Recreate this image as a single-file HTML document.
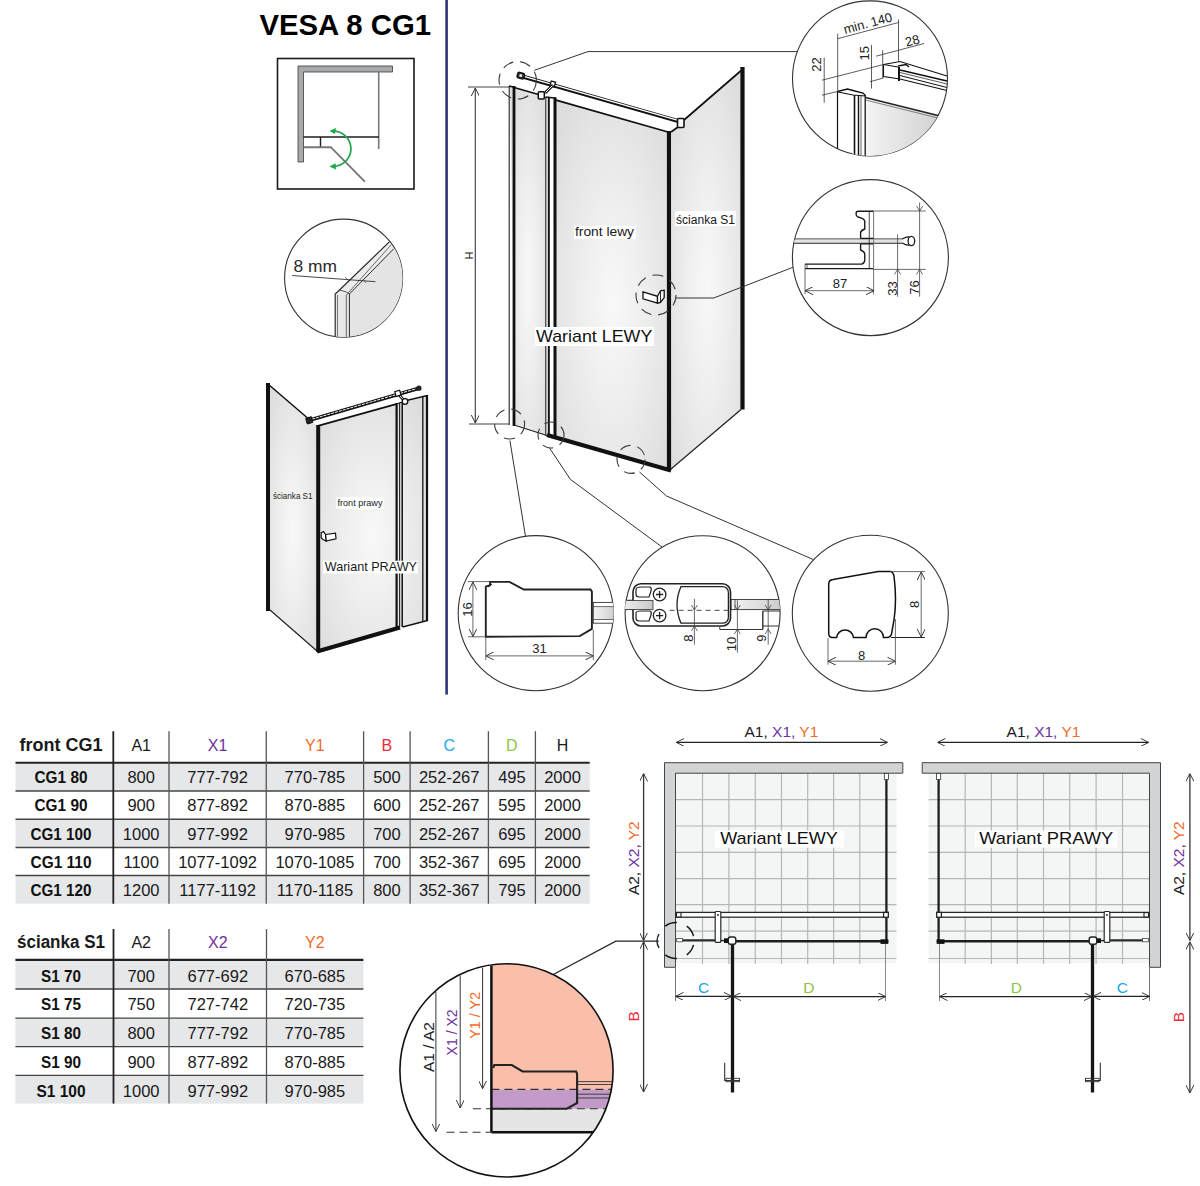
<!DOCTYPE html>
<html><head><meta charset="utf-8">
<style>
html,body{margin:0;padding:0;background:#fff;width:1200px;height:1186px;overflow:hidden}
svg{display:block}
text{font-family:"Liberation Sans",sans-serif}
</style></head>
<body>
<svg width="1200" height="1186" viewBox="0 0 1200 1186">
<defs>
<radialGradient id="glass" cx="0.5" cy="0.55" r="0.65">
<stop offset="0" stop-color="#f8f8f8"/><stop offset="0.4" stop-color="#efefef"/><stop offset="0.75" stop-color="#e5e5e5"/><stop offset="1" stop-color="#dddddd"/>
</radialGradient>
<linearGradient id="glassH" x1="0" y1="0" x2="1" y2="0">
<stop offset="0" stop-color="#f4f4f4"/><stop offset="1" stop-color="#c8c8c8"/>
</linearGradient>
<clipPath id="c8mm"><circle cx="343.6" cy="278.1" r="59"/></clipPath>
<clipPath id="cTR"><circle cx="870" cy="78.4" r="77.5"/></clipPath>
<clipPath id="cHR"><circle cx="870.4" cy="257.6" r="78"/></clipPath>
<clipPath id="cB1"><circle cx="535.8" cy="613.2" r="77.6"/></clipPath>
<clipPath id="cB2"><circle cx="702.6" cy="613.2" r="77.5"/></clipPath>
<clipPath id="cB3"><circle cx="870.3" cy="613.2" r="78"/></clipPath>
<clipPath id="cMag"><circle cx="506.5" cy="1070.4" r="106.6"/></clipPath>
<marker id="arr" viewBox="0 0 10 10" refX="10" refY="5" markerWidth="8" markerHeight="8" orient="auto-start-reverse" markerUnits="userSpaceOnUse">
<path d="M0,0 L10,5 L0,10" fill="none" stroke="#333" stroke-width="1.2"/>
</marker>
</defs>
<rect width="1200" height="1186" fill="#fff"/>

<!-- HEADER -->
<text x="259.5" y="34.8" font-size="29.3" font-weight="bold" fill="#000">VESA 8 CG1</text>
<rect x="445.3" y="0" width="2.6" height="694.6" fill="#2e3572"/>

<!--ICONS-->
<g id="icons">
<rect x="277.5" y="58.5" width="136.5" height="130.5" fill="none" stroke="#1a1a1a" stroke-width="1.6"/>
<path d="M298,66 L392.5,66 L392.5,72 L303.5,72 L303.5,162 L298,162 Z" fill="#a7a9ac" stroke="#3a3a3a" stroke-width="0.8"/>
<line x1="378.7" y1="72" x2="378.7" y2="149" stroke="#777" stroke-width="1.6"/>
<line x1="303.5" y1="137" x2="379" y2="137" stroke="#1e1e1e" stroke-width="1.6"/>
<line x1="320.5" y1="137" x2="320.5" y2="147.5" stroke="#1e1e1e" stroke-width="1.4"/>
<path d="M303.5,147.2 L330.8,147.2 L364.8,181.7" fill="none" stroke="#777" stroke-width="1.9"/>
<path d="M332,131.2 A17.6,17.6 0 1 1 332,166.3" fill="none" stroke="#1fa64a" stroke-width="1.7"/>
<path d="M329.5,131 L336,128 L335,134 Z" fill="#1fa64a"/>
<path d="M329.5,166.5 L335.5,163.2 L336,169.5 Z" fill="#1fa64a"/>

<circle cx="343.6" cy="278.1" r="59" fill="none" stroke="#333" stroke-width="1.1"/>
<g clip-path="url(#c8mm)">
<path d="M349.4,294 L393.8,248.7 L420,248 L420,345 L349.4,345 Z" fill="#e4e4e4"/>
<path d="M335.2,294 L389.3,241.9 L393.8,248.7 L349.4,294 Z" fill="#ececec"/>
<rect x="335.2" y="294" width="14.2" height="50" fill="#e8e8e8"/>
<path d="M335.2,345 L335.2,294 L339.5,290 L389.3,241.9" fill="none" stroke="#2a2a2a" stroke-width="1.2"/>
<path d="M337.5,345 L337.5,295" fill="none" stroke="#444" stroke-width="0.7"/>
<path d="M346.3,345 L346.3,295 L391,245" fill="none" stroke="#444" stroke-width="0.8"/>
<path d="M349.4,345 L349.4,294 L393.8,248.7" fill="none" stroke="#2a2a2a" stroke-width="1"/>
<path d="M339.5,290 L346.3,292 L349.4,294" fill="none" stroke="#333" stroke-width="0.8"/>
</g>
<text x="293.5" y="272" font-size="16.5" fill="#2a2a2a" textLength="43.5" lengthAdjust="spacingAndGlyphs">8 mm</text>
<line x1="292.2" y1="275.5" x2="375.4" y2="281.7" stroke="#333" stroke-width="0.9"/>
<path d="M345,277 L349,281 M363,279 L366,283" stroke="#333" stroke-width="0.6"/>
</g>

<!--PRAWY3D-->
<g id="prawy3d">
<polygon points="268,384 310,421 318,426 318,651 270,610" fill="url(#glass)"/>
<polygon points="318,426 396,404 427.5,395.5 427.5,620.7 399,627.5 318,651" fill="url(#glass)"/>
<line x1="268" y1="383" x2="268" y2="611" stroke="#111" stroke-width="4"/>
<line x1="268" y1="384" x2="311" y2="421" stroke="#111" stroke-width="1.5"/>
<line x1="270" y1="610" x2="317" y2="651" stroke="#222" stroke-width="1.2"/>
<line x1="318.2" y1="425" x2="318.2" y2="652" stroke="#111" stroke-width="4"/>
<line x1="317" y1="426.1" x2="397" y2="403.9" stroke="#111" stroke-width="1.7"/>
<line x1="317" y1="651.5" x2="400" y2="627.5" stroke="#111" stroke-width="4"/>
<line x1="396.6" y1="403.5" x2="396.6" y2="628" stroke="#111" stroke-width="2.2"/>
<line x1="399.6" y1="403" x2="399.6" y2="627" stroke="#222" stroke-width="1.1"/>
<line x1="402.2" y1="402" x2="402.2" y2="627" stroke="#111" stroke-width="1.5"/>
<line x1="422.8" y1="396.5" x2="422.8" y2="621" stroke="#222" stroke-width="1.4"/>
<line x1="427" y1="395" x2="427" y2="621" stroke="#111" stroke-width="2.2"/>
<line x1="402.2" y1="401.5" x2="427.5" y2="395.5" stroke="#111" stroke-width="1.3"/>
<line x1="402.6" y1="627" x2="427.5" y2="620.5" stroke="#111" stroke-width="1.3"/>
<line x1="396" y1="404" x2="402.5" y2="402" stroke="#111" stroke-width="1.3"/>
<line x1="309.3" y1="420.3" x2="418.9" y2="388.2" stroke="#111" stroke-width="3.5"/>
<line x1="312" y1="419.2" x2="416" y2="388.8" stroke="#fff" stroke-width="1" stroke-dasharray="3,1"/>
<rect x="306.3" y="417.3" width="6" height="6" rx="1" fill="#222" stroke="#111" stroke-width="1" transform="rotate(-16 309.3 420.3)"/>
<circle cx="418.9" cy="388.2" r="2.6" fill="#222"/>
<line x1="397.9" y1="393.4" x2="404.9" y2="401.6" stroke="#111" stroke-width="3"/>
<line x1="398.4" y1="393.9" x2="404.4" y2="401.1" stroke="#fff" stroke-width="1"/>
<rect x="395.4" y="390.8" width="5" height="5" fill="#fff" stroke="#111" stroke-width="1.2" transform="rotate(-16 397.9 393.3)"/>
<circle cx="405" cy="401.5" r="2.8" fill="#fff" stroke="#111" stroke-width="1.3"/>
<polygon points="325.5,534.5 335.5,533.2 336,538.8 326,541" fill="#fff" stroke="#111" stroke-width="1.2"/>
<polygon points="321.2,532.8 323.5,531.6 325.5,534.5 326,541 323,539.5 321.2,537.8" fill="#fff" stroke="#111" stroke-width="1.2"/>
<text x="273" y="498.7" font-size="8.8" fill="#222" textLength="39.5" lengthAdjust="spacingAndGlyphs">ścianka S1</text>
<rect x="336" y="497" width="48" height="12" fill="#fff" opacity="0.9"/>
<text x="337.5" y="505.8" font-size="9" fill="#222" textLength="45" lengthAdjust="spacingAndGlyphs">front prawy</text>
<rect x="323" y="560.7" width="94.7" height="12.8" fill="#fff"/>
<text x="324.7" y="571.2" font-size="12.6" fill="#1a1a1a" textLength="92.3" lengthAdjust="spacingAndGlyphs">Wariant PRAWY</text>
</g>

<!--LEWY3D-->
<g id="lewy3d">
<polygon points="510,86 546,96 546,436 515,425" fill="url(#glass)"/>
<polygon points="556,100 668,132 669,470 556,437" fill="url(#glass)"/>
<polygon points="671.7,131.8 743.3,68.5 743,409 671,469" fill="url(#glass)"/>
<!-- H dimension -->
<line x1="468" y1="87" x2="510" y2="87" stroke="#444" stroke-width="1"/>
<line x1="469" y1="424" x2="509" y2="424" stroke="#444" stroke-width="1"/>
<line x1="475.3" y1="88" x2="475.3" y2="423" stroke="#3a3a3a" stroke-width="1.1" marker-start="url(#arr)" marker-end="url(#arr)"/>
<text transform="translate(473,255.5) rotate(-90)" font-size="11" fill="#222" text-anchor="middle">H</text>
<!-- fixed panel -->
<line x1="509.2" y1="86" x2="509.2" y2="425" stroke="#222" stroke-width="1.1"/>
<line x1="514" y1="86" x2="514" y2="426" stroke="#111" stroke-width="2.8"/>
<line x1="509" y1="86" x2="515" y2="87.5" stroke="#111" stroke-width="1.5"/>
<line x1="515" y1="87.7" x2="538.5" y2="94.5" stroke="#111" stroke-width="1.5"/>
<line x1="514" y1="425" x2="547" y2="435.5" stroke="#222" stroke-width="1.1"/>
<!-- inner strip -->
<line x1="545.8" y1="97" x2="545.8" y2="436" stroke="#222" stroke-width="1.1"/>
<line x1="548.8" y1="97" x2="548.8" y2="436" stroke="#111" stroke-width="2"/>
<line x1="555" y1="97.5" x2="555" y2="437" stroke="#111" stroke-width="3"/>
<line x1="545.7" y1="97" x2="556.3" y2="98.3" stroke="#111" stroke-width="1.6"/>
<!-- door -->
<line x1="556" y1="100.2" x2="668" y2="132" stroke="#111" stroke-width="1.8"/>
<line x1="669" y1="131" x2="669" y2="471" stroke="#111" stroke-width="4.2"/>
<line x1="547" y1="435" x2="671" y2="470.5" stroke="#111" stroke-width="4.4"/>
<!-- S1 -->
<line x1="671" y1="132" x2="678" y2="127" stroke="#111" stroke-width="1.7"/>
<line x1="684" y1="120" x2="743.5" y2="68.5" stroke="#111" stroke-width="1.7"/>
<line x1="742.5" y1="67" x2="742.5" y2="409.5" stroke="#111" stroke-width="4.2"/>
<line x1="671" y1="469" x2="741" y2="409.5" stroke="#222" stroke-width="1.2"/>
<!-- rail -->
<line x1="519" y1="75.5" x2="681" y2="121.8" stroke="#111" stroke-width="4"/>
<line x1="524" y1="76.3" x2="678" y2="120.3" stroke="#fff" stroke-width="1.3"/>
<rect x="517.3" y="72.8" width="7" height="5.6" rx="1.5" fill="#333" stroke="#111" stroke-width="1.4" transform="rotate(16 520.7 75.6)"/>
<rect x="519.5" y="74.3" width="2.5" height="2.5" fill="#fff" transform="rotate(16 520.7 75.6)"/>
<rect x="550.5" y="81.5" width="4.5" height="5" fill="#fff" stroke="#111" stroke-width="1.3" transform="rotate(16 552.7 84)"/>
<line x1="545" y1="93" x2="553" y2="85" stroke="#111" stroke-width="3"/>
<line x1="545.5" y1="92.5" x2="552.5" y2="85.5" stroke="#fff" stroke-width="1"/>
<rect x="538.3" y="91.7" width="6" height="7.3" rx="1" fill="#fff" stroke="#111" stroke-width="1.5"/>
<rect x="677.5" y="118.5" width="6.5" height="9" rx="1" fill="#fff" stroke="#111" stroke-width="1.6"/>
<!-- handle -->
<polygon points="643,291.8 657.5,296.3 657.5,303.2 643,298.8" fill="#fff" stroke="#111" stroke-width="1.3"/>
<polygon points="657.5,296.3 660.5,290.8 664.2,290.2 664.2,297.6 660.5,302.5 657.5,303.2" fill="#fff" stroke="#111" stroke-width="1.3"/>
<line x1="660.5" y1="291" x2="660.5" y2="302.5" stroke="#111" stroke-width="0.9"/>
<!-- texts -->
<rect x="574" y="226" width="62" height="13" fill="#fff"/>
<text x="575" y="236" font-size="12" fill="#1a1a1a" textLength="59" lengthAdjust="spacingAndGlyphs">front lewy</text>
<rect x="675" y="211" width="61" height="15" fill="#fff"/>
<text x="676" y="223.7" font-size="12.3" fill="#1a1a1a" textLength="59" lengthAdjust="spacingAndGlyphs">ścianka S1</text>
<rect x="535" y="327" width="119" height="19" fill="#fff"/>
<text x="536" y="342" font-size="17" fill="#111" textLength="116.3" lengthAdjust="spacingAndGlyphs">Wariant LEWY</text>
<!-- dashed circles -->
<g fill="none" stroke="#3a3a3a" stroke-width="1.1" stroke-dasharray="11,7">
<circle cx="517.7" cy="80.3" r="18.7"/>
<circle cx="656" cy="295" r="20"/>
<circle cx="509.6" cy="424" r="15"/>
<circle cx="551" cy="435" r="13"/>
<circle cx="631" cy="459.4" r="14"/>
</g>
<!-- leaders -->
<g fill="none" stroke="#333" stroke-width="1">
<polyline points="534.3,70.3 588,51.6 797,51.6"/>
<polyline points="675.5,298 713.7,298 793.2,267.2"/>
<polyline points="509.9,440.5 525.5,536.5"/>
<polyline points="549.5,448 570.5,479.5 662,547"/>
<polyline points="639.5,472 666.5,496 813,559.4"/>
</g>
</g>

<!--CIRCLES-->
<g id="circTR">
<circle cx="870" cy="78.4" r="77.5" fill="#fff" stroke="#333" stroke-width="1.1"/>
<g clip-path="url(#cTR)">
<polygon points="865.5,97.5 940,116 960,160 865.5,160" fill="url(#glassH)"/>
<line x1="865.5" y1="97.5" x2="940" y2="116" stroke="#222" stroke-width="1.3"/>
<line x1="865.5" y1="100" x2="940" y2="118.5" stroke="#555" stroke-width="0.7"/>
<line x1="837.5" y1="91.5" x2="837.5" y2="160" stroke="#111" stroke-width="1.2"/>
<rect x="852.5" y="94" width="13" height="66" fill="#fff"/>
<line x1="854.5" y1="95" x2="854.5" y2="160" stroke="#111" stroke-width="1.6"/>
<line x1="858.5" y1="95" x2="858.5" y2="160" stroke="#111" stroke-width="1.4"/>
<line x1="861" y1="95" x2="861" y2="160" stroke="#333" stroke-width="0.8"/>
<line x1="865.2" y1="95" x2="865.2" y2="160" stroke="#111" stroke-width="1.3"/>
<path d="M837.5,91.5 L847.5,89 L853,90.5 L863,93 L865.5,95.5" fill="none" stroke="#111" stroke-width="1.3"/>
<path d="M838,92 L853,95 L865.5,96" fill="none" stroke="#111" stroke-width="1.1"/>
<!-- rail -->
<path d="M883.5,64.5 L900,61.5 L947,76" fill="none" stroke="#111" stroke-width="1.1"/>
<path d="M883.5,64.5 L883.5,76.5 L900,79" fill="none" stroke="#111" stroke-width="1.1"/>
<line x1="900" y1="79" x2="947" y2="90.5" stroke="#111" stroke-width="1.1"/>
<line x1="900" y1="70" x2="947" y2="81" stroke="#111" stroke-width="1.3"/>
<line x1="900" y1="72.5" x2="947" y2="84" stroke="#333" stroke-width="0.8"/>
<line x1="900" y1="75.5" x2="947" y2="87.5" stroke="#111" stroke-width="1"/>
<path d="M899,67 L899,81" stroke="#111" stroke-width="2"/>
<path d="M898,66 L906,64.5 L909,67" fill="none" stroke="#111" stroke-width="1.5"/>
<line x1="883.5" y1="64.5" x2="898" y2="67" stroke="#111" stroke-width="1"/>
<!-- dims -->
<g stroke="#333" stroke-width="0.8" fill="none">
<line x1="837.7" y1="33.7" x2="837.7" y2="91.5"/>
<line x1="898.5" y1="19.5" x2="898.5" y2="61.5"/>
<line x1="837.7" y1="38.7" x2="898.5" y2="22.5"/>
<line x1="876" y1="56.2" x2="924" y2="43.5"/>
<line x1="882.7" y1="50.2" x2="882.7" y2="78"/>
<line x1="871.5" y1="45" x2="871.5" y2="88.5"/>
<line x1="824.2" y1="57.7" x2="824.2" y2="102.7"/>
<line x1="822" y1="80.2" x2="883.5" y2="64.5"/>
<line x1="822" y1="95.2" x2="837.4" y2="91.5"/>
<line x1="870" y1="81.7" x2="883.5" y2="78"/>
</g>
</g>
<text transform="translate(869,27.5) rotate(-15)" font-size="13" fill="#222" text-anchor="middle">min. 140</text>
<text transform="translate(913.5,45) rotate(-15)" font-size="13" fill="#222" text-anchor="middle">28</text>
<text transform="translate(868.5,53.2) rotate(-90)" font-size="13" fill="#222" text-anchor="middle">15</text>
<text transform="translate(821,64.5) rotate(-90)" font-size="13" fill="#222" text-anchor="middle">22</text>
</g>

<g id="circHR">
<circle cx="870.4" cy="257.6" r="78" fill="#fff" stroke="#333" stroke-width="1.1"/>
<g clip-path="url(#cHR)">
<path d="M790,239 L902.3,239 M790,243.1 L902.3,243.1" fill="none" stroke="#222" stroke-width="1.2"/>
<rect x="790" y="239.6" width="112" height="2.9" fill="#e2e2e2"/>
<path d="M805,264.1 L861.5,264.1 Q864.75,263.3 864.75,260 L864.75,254 Q864.5,251.5 860.6,250 L860.6,243.9 M860.6,238.3 L860.6,232.5 Q861,230.5 864.75,229 L864.75,221 Q864.2,218.5 858,217 Q856.1,216.5 856.1,214 L856.1,213 Q856.3,211.25 858.5,211.25 L873.4,211.25 M805,268.6 L873.4,268.6" fill="none" stroke="#1a1a1a" stroke-width="1.4"/>
<line x1="869.25" y1="211.5" x2="869.25" y2="268.5" stroke="#333" stroke-width="0.9"/>
<line x1="873.6" y1="211" x2="873.6" y2="294.5" stroke="#777" stroke-width="1"/>
<line x1="860.6" y1="238.4" x2="873.4" y2="238.4" stroke="#1a1a1a" stroke-width="1.2"/>
<line x1="860.6" y1="243.8" x2="873.4" y2="243.8" stroke="#1a1a1a" stroke-width="1.2"/>
<line x1="807" y1="264.5" x2="807" y2="268.5" stroke="#333" stroke-width="0.8"/>
<path d="M902.3,239 Q905.5,236.8 909.5,236.6 M902.3,243.1 Q905.5,245.3 909.5,245.4" fill="none" stroke="#1a1a1a" stroke-width="1.2"/>
<ellipse cx="911.4" cy="241" rx="3.3" ry="4.7" fill="#fff" stroke="#1a1a1a" stroke-width="1.3"/>
</g>
<g stroke="#444" stroke-width="0.8" fill="none">
<line x1="873.3" y1="211" x2="925.7" y2="211"/>
<line x1="873.3" y1="269.4" x2="925.7" y2="269.4"/>
<line x1="919.6" y1="202.6" x2="919.6" y2="296.7"/>
<line x1="897.6" y1="234.5" x2="897.6" y2="296.7"/>
<line x1="805" y1="264" x2="805" y2="294"/>

<line x1="805" y1="290.7" x2="874.1" y2="290.7" marker-start="url(#arr)" marker-end="url(#arr)"/>
<path d="M916.5,206 L919.6,211 L922.7,206 M916.5,274.4 L919.6,269.4 L922.7,274.4 M894.5,274.4 L897.6,269.4 L900.7,274.4"/>
</g>
<text x="840" y="287.5" font-size="13" fill="#222" text-anchor="middle">87</text>
<text transform="translate(896.5,288.4) rotate(-90)" font-size="13" fill="#222" text-anchor="middle">33</text>
<text transform="translate(918.5,287.6) rotate(-90)" font-size="13" fill="#222" text-anchor="middle">76</text>
</g>

<g id="circB1">
<circle cx="535.8" cy="613.2" r="77.6" fill="#fff" stroke="#333" stroke-width="1.1"/>
<g clip-path="url(#cB1)">
<rect x="593.3" y="602.4" width="25" height="20.8" fill="#fff" stroke="#333" stroke-width="0.9"/>
<rect x="593.3" y="606.7" width="25" height="12.9" fill="url(#glassH)" stroke="#333" stroke-width="0.7"/>
</g>
<path d="M490.1,585.2 L490.1,581.9 L509.5,581.9 L523.8,589.5 L590.5,589.5 L591.9,591.6 L591.9,628.9 L579.7,636.1 L485.8,636.8 L485.8,586.6 Z" fill="#fff" stroke="#222" stroke-width="1.9"/>
<path d="M488,587 L492,584" stroke="#222" stroke-width="1"/>
<g stroke="#444" stroke-width="0.8" fill="none">
<line x1="467.9" y1="581.6" x2="490" y2="581.6"/>
<line x1="467.9" y1="636.8" x2="486" y2="636.8"/>
<line x1="472.9" y1="582" x2="472.9" y2="636.5" marker-start="url(#arr)" marker-end="url(#arr)"/>
<line x1="485.8" y1="637" x2="485.8" y2="660"/>
<line x1="593.3" y1="630" x2="593.3" y2="660"/>
<line x1="485.8" y1="655.9" x2="593.3" y2="655.9" marker-start="url(#arr)" marker-end="url(#arr)"/>
</g>
<text transform="translate(471.5,609.6) rotate(-90)" font-size="13" fill="#222" text-anchor="middle">16</text>
<text x="539.6" y="653.3" font-size="13" fill="#222" text-anchor="middle">31</text>
</g>

<g id="circB2">
<circle cx="702.6" cy="613.2" r="77.5" fill="#fff" stroke="#333" stroke-width="1.1"/>
<g clip-path="url(#cB2)">
<rect x="620" y="600.2" width="33" height="9.4" fill="url(#glassH)" stroke="#333" stroke-width="0.9"/>
<rect x="731" y="599.5" width="55" height="10.1" fill="url(#glassH)" stroke="#333" stroke-width="0.9"/>
<line x1="735" y1="599.5" x2="735" y2="609.6" stroke="#333" stroke-width="0.8"/>
<path d="M719.8,627 L719.8,629.5 L762.8,629.5 L762.8,611 L790,611 M762.8,626 L790,626" fill="none" stroke="#333" stroke-width="1"/>
<line x1="762.8" y1="611" x2="762.8" y2="629" stroke="#333" stroke-width="1"/>
</g>
<rect x="633" y="583.8" width="97.5" height="42.2" rx="8" fill="#fff" stroke="#222" stroke-width="1.6"/>
<rect x="620" y="600.5" width="33" height="9" fill="url(#glassH)" stroke="#333" stroke-width="0.8" clip-path="url(#cB2)"/>
<path d="M681,586.6 L722,586.6 Q728.4,586.6 728.4,593 L728.4,617 Q728.4,623.2 722,623.2 L681,623.2 Q673,605 681,586.6 Z" fill="#fff" stroke="#222" stroke-width="1.3"/>
<path d="M636,590 Q636,587 641,587 L650,587 Q652,588 651,591 L649,597 L639,597 Q636,597 636,594 Z" fill="#fff" stroke="#222" stroke-width="1.2"/>
<path d="M636,613 Q636,611 641,611 L650,611 Q652,612 651,615 L649,621 L639,621 Q636,621 636,618 Z" fill="#fff" stroke="#222" stroke-width="1.2"/>
<circle cx="659.6" cy="594.5" r="6.3" fill="#fff" stroke="#222" stroke-width="1.3"/>
<circle cx="659.6" cy="615.6" r="6.3" fill="#fff" stroke="#222" stroke-width="1.3"/>
<path d="M656,594.5 L663.2,594.5 M659.6,591 L659.6,598 M656,615.6 L663.2,615.6 M659.6,612 L659.6,619.2" stroke="#222" stroke-width="1.3"/>
<line x1="669.6" y1="610.3" x2="729.8" y2="610.3" stroke="#333" stroke-width="0.9" stroke-dasharray="5,4"/>
<g stroke="#444" stroke-width="0.8" fill="none">
<line x1="694.4" y1="598.8" x2="694.4" y2="644.7"/>
<line x1="737.4" y1="600.2" x2="737.4" y2="652.6"/>
<line x1="768.2" y1="598.8" x2="768.2" y2="644.7"/>
<path d="M691.5,605 L694.4,610 L697.3,605 M691.5,631 L694.4,626 L697.3,631 M734.5,605 L737.4,610 L740.3,605 M734.5,634 L737.4,629 L740.3,634 M765.3,605 L768.2,610 L771.1,605 M765.3,634 L768.2,629 L771.1,634"/>
</g>
<text transform="translate(692.5,638.2) rotate(-90)" font-size="13" fill="#222" text-anchor="middle">8</text>
<text transform="translate(735.5,644) rotate(-90)" font-size="13" fill="#222" text-anchor="middle">10</text>
<text transform="translate(765.5,638.2) rotate(-90)" font-size="13" fill="#222" text-anchor="middle">9</text>
</g>

<g id="circB3">
<circle cx="870.3" cy="613.2" r="78" fill="#fff" stroke="#333" stroke-width="1.1"/>
<path d="M828.7,584 Q828.7,580 833,579.5 L878.2,571.6 L890.4,571.6 Q893,572 894,576 Q897,600 894,620 L891.5,634 Q890.5,637.5 887,637.5 L883.5,637.5 A8.5,8.5 0 0 0 866,637.5 L853.5,637.5 A8.5,8.5 0 0 0 836.6,637.5 L832,637.5 Q828.7,637.5 828.7,633 Z" fill="#fff" stroke="#111" stroke-width="1.5"/>
<g stroke="#444" stroke-width="0.8" fill="none">
<line x1="890" y1="571.6" x2="924.8" y2="571.6"/>
<line x1="891" y1="637.5" x2="924.8" y2="637.5" stroke="#222" stroke-width="1"/>
<line x1="921.2" y1="572" x2="921.2" y2="637" marker-start="url(#arr)" marker-end="url(#arr)"/>
<line x1="828" y1="638" x2="828" y2="664.7"/>
<line x1="895.4" y1="619" x2="895.4" y2="664.7"/>
<line x1="828" y1="661.2" x2="895.4" y2="661.2" marker-start="url(#arr)" marker-end="url(#arr)"/>
</g>
<text transform="translate(919,604.3) rotate(-90)" font-size="13" fill="#222" text-anchor="middle">8</text>
<text x="861.7" y="660" font-size="13" fill="#222" text-anchor="middle">8</text>
</g>

<!--TABLES-->
<g id="tables">
<rect x="15.5" y="763.7" width="574.2" height="27.299999999999955" fill="#e6e7e9"/>
<rect x="15.5" y="819.25" width="574.2" height="28.25" fill="#e6e7e9"/>
<rect x="15.5" y="875.5" width="574.2" height="28.25" fill="#e6e7e9"/>
<line x1="15.5" y1="791" x2="589.7" y2="791" stroke="#444" stroke-width="1.3"/>
<line x1="15.5" y1="819.25" x2="589.7" y2="819.25" stroke="#444" stroke-width="1.3"/>
<line x1="15.5" y1="847.5" x2="589.7" y2="847.5" stroke="#444" stroke-width="1.3"/>
<line x1="15.5" y1="875.5" x2="589.7" y2="875.5" stroke="#444" stroke-width="1.3"/>
<line x1="15.5" y1="762.7" x2="589.7" y2="762.7" stroke="#222" stroke-width="2.1"/>
<line x1="113.3" y1="731.25" x2="113.3" y2="903.75" stroke="#222" stroke-width="1.8"/>
<line x1="169" y1="731.25" x2="169" y2="903.75" stroke="#555" stroke-width="1.3"/>
<line x1="266.25" y1="731.25" x2="266.25" y2="903.75" stroke="#555" stroke-width="1.3"/>
<line x1="363.6" y1="731.25" x2="363.6" y2="903.75" stroke="#555" stroke-width="1.3"/>
<line x1="410.1" y1="731.25" x2="410.1" y2="903.75" stroke="#555" stroke-width="1.3"/>
<line x1="488.4" y1="731.25" x2="488.4" y2="903.75" stroke="#555" stroke-width="1.3"/>
<line x1="535.4" y1="731.25" x2="535.4" y2="903.75" stroke="#555" stroke-width="1.3"/>
<text x="61.0" y="750.8" font-size="18" font-weight="bold" fill="#1a1a1a" text-anchor="middle">front CG1</text>
<text x="141.2" y="750.8" font-size="16" fill="#1a1a1a" text-anchor="middle">A1</text>
<text x="217.6" y="750.8" font-size="16" fill="#7030a0" text-anchor="middle">X1</text>
<text x="314.9" y="750.8" font-size="16" fill="#f26b2a" text-anchor="middle">Y1</text>
<text x="386.9" y="750.8" font-size="16" fill="#ee2a3a" text-anchor="middle">B</text>
<text x="449.2" y="750.8" font-size="16" fill="#1ea7e8" text-anchor="middle">C</text>
<text x="511.9" y="750.8" font-size="16" fill="#8dc63f" text-anchor="middle">D</text>
<text x="562.5" y="750.8" font-size="16" fill="#1a1a1a" text-anchor="middle">H</text>
<text x="34.5" y="783.3" font-size="16.8" font-weight="bold" fill="#111" textLength="53" lengthAdjust="spacingAndGlyphs">CG1 80</text>
<text x="141.2" y="783.3" font-size="16.5" fill="#1a1a1a" text-anchor="middle">800</text>
<text x="217.6" y="783.3" font-size="16.5" fill="#1a1a1a" text-anchor="middle">777-792</text>
<text x="314.9" y="783.3" font-size="16.5" fill="#1a1a1a" text-anchor="middle">770-785</text>
<text x="386.9" y="783.3" font-size="16.5" fill="#1a1a1a" text-anchor="middle">500</text>
<text x="449.2" y="783.3" font-size="16.5" fill="#1a1a1a" text-anchor="middle">252-267</text>
<text x="511.9" y="783.3" font-size="16.5" fill="#1a1a1a" text-anchor="middle">495</text>
<text x="562.5" y="783.3" font-size="16.5" fill="#1a1a1a" text-anchor="middle">2000</text>
<text x="34.5" y="811.4" font-size="16.8" font-weight="bold" fill="#111" textLength="53" lengthAdjust="spacingAndGlyphs">CG1 90</text>
<text x="141.2" y="811.4" font-size="16.5" fill="#1a1a1a" text-anchor="middle">900</text>
<text x="217.6" y="811.4" font-size="16.5" fill="#1a1a1a" text-anchor="middle">877-892</text>
<text x="314.9" y="811.4" font-size="16.5" fill="#1a1a1a" text-anchor="middle">870-885</text>
<text x="386.9" y="811.4" font-size="16.5" fill="#1a1a1a" text-anchor="middle">600</text>
<text x="449.2" y="811.4" font-size="16.5" fill="#1a1a1a" text-anchor="middle">252-267</text>
<text x="511.9" y="811.4" font-size="16.5" fill="#1a1a1a" text-anchor="middle">595</text>
<text x="562.5" y="811.4" font-size="16.5" fill="#1a1a1a" text-anchor="middle">2000</text>
<text x="30.5" y="839.5" font-size="16.8" font-weight="bold" fill="#111" textLength="61" lengthAdjust="spacingAndGlyphs">CG1 100</text>
<text x="141.2" y="839.5" font-size="16.5" fill="#1a1a1a" text-anchor="middle">1000</text>
<text x="217.6" y="839.5" font-size="16.5" fill="#1a1a1a" text-anchor="middle">977-992</text>
<text x="314.9" y="839.5" font-size="16.5" fill="#1a1a1a" text-anchor="middle">970-985</text>
<text x="386.9" y="839.5" font-size="16.5" fill="#1a1a1a" text-anchor="middle">700</text>
<text x="449.2" y="839.5" font-size="16.5" fill="#1a1a1a" text-anchor="middle">252-267</text>
<text x="511.9" y="839.5" font-size="16.5" fill="#1a1a1a" text-anchor="middle">695</text>
<text x="562.5" y="839.5" font-size="16.5" fill="#1a1a1a" text-anchor="middle">2000</text>
<text x="30.5" y="867.6" font-size="16.8" font-weight="bold" fill="#111" textLength="61" lengthAdjust="spacingAndGlyphs">CG1 110</text>
<text x="141.2" y="867.6" font-size="16.5" fill="#1a1a1a" text-anchor="middle">1100</text>
<text x="217.6" y="867.6" font-size="16.5" fill="#1a1a1a" text-anchor="middle">1077-1092</text>
<text x="314.9" y="867.6" font-size="16.5" fill="#1a1a1a" text-anchor="middle">1070-1085</text>
<text x="386.9" y="867.6" font-size="16.5" fill="#1a1a1a" text-anchor="middle">700</text>
<text x="449.2" y="867.6" font-size="16.5" fill="#1a1a1a" text-anchor="middle">352-367</text>
<text x="511.9" y="867.6" font-size="16.5" fill="#1a1a1a" text-anchor="middle">695</text>
<text x="562.5" y="867.6" font-size="16.5" fill="#1a1a1a" text-anchor="middle">2000</text>
<text x="30.5" y="895.7" font-size="16.8" font-weight="bold" fill="#111" textLength="61" lengthAdjust="spacingAndGlyphs">CG1 120</text>
<text x="141.2" y="895.7" font-size="16.5" fill="#1a1a1a" text-anchor="middle">1200</text>
<text x="217.6" y="895.7" font-size="16.5" fill="#1a1a1a" text-anchor="middle">1177-1192</text>
<text x="314.9" y="895.7" font-size="16.5" fill="#1a1a1a" text-anchor="middle">1170-1185</text>
<text x="386.9" y="895.7" font-size="16.5" fill="#1a1a1a" text-anchor="middle">800</text>
<text x="449.2" y="895.7" font-size="16.5" fill="#1a1a1a" text-anchor="middle">352-367</text>
<text x="511.9" y="895.7" font-size="16.5" fill="#1a1a1a" text-anchor="middle">795</text>
<text x="562.5" y="895.7" font-size="16.5" fill="#1a1a1a" text-anchor="middle">2000</text>
<rect x="15.4" y="960.9" width="348.0" height="28.100000000000023" fill="#e6e7e9"/>
<rect x="15.4" y="1018.1" width="348.0" height="28.499999999999886" fill="#e6e7e9"/>
<rect x="15.4" y="1075.4" width="348.0" height="28.199999999999818" fill="#e6e7e9"/>
<line x1="15.4" y1="989" x2="363.4" y2="989" stroke="#444" stroke-width="1.3"/>
<line x1="15.4" y1="1018.1" x2="363.4" y2="1018.1" stroke="#444" stroke-width="1.3"/>
<line x1="15.4" y1="1046.6" x2="363.4" y2="1046.6" stroke="#444" stroke-width="1.3"/>
<line x1="15.4" y1="1075.4" x2="363.4" y2="1075.4" stroke="#444" stroke-width="1.3"/>
<line x1="15.4" y1="959.9" x2="363.4" y2="959.9" stroke="#222" stroke-width="2.1"/>
<line x1="113.5" y1="929" x2="113.5" y2="1103.6" stroke="#222" stroke-width="1.8"/>
<line x1="169" y1="929" x2="169" y2="1103.6" stroke="#555" stroke-width="1.3"/>
<line x1="266.5" y1="929" x2="266.5" y2="1103.6" stroke="#555" stroke-width="1.3"/>
<text x="17.0" y="947.6" font-size="18" font-weight="bold" fill="#1a1a1a" textLength="88" lengthAdjust="spacingAndGlyphs">ścianka S1</text>
<text x="141.2" y="947.6" font-size="16" fill="#1a1a1a" text-anchor="middle">A2</text>
<text x="217.8" y="947.6" font-size="16" fill="#7030a0" text-anchor="middle">X2</text>
<text x="314.9" y="947.6" font-size="16" fill="#f26b2a" text-anchor="middle">Y2</text>
<text x="41.0" y="981.5" font-size="16.8" font-weight="bold" fill="#111" textLength="40" lengthAdjust="spacingAndGlyphs">S1 70</text>
<text x="141.2" y="981.5" font-size="16.5" fill="#1a1a1a" text-anchor="middle">700</text>
<text x="217.8" y="981.5" font-size="16.5" fill="#1a1a1a" text-anchor="middle">677-692</text>
<text x="314.9" y="981.5" font-size="16.5" fill="#1a1a1a" text-anchor="middle">670-685</text>
<text x="41.0" y="1010.3" font-size="16.8" font-weight="bold" fill="#111" textLength="40" lengthAdjust="spacingAndGlyphs">S1 75</text>
<text x="141.2" y="1010.3" font-size="16.5" fill="#1a1a1a" text-anchor="middle">750</text>
<text x="217.8" y="1010.3" font-size="16.5" fill="#1a1a1a" text-anchor="middle">727-742</text>
<text x="314.9" y="1010.3" font-size="16.5" fill="#1a1a1a" text-anchor="middle">720-735</text>
<text x="41.0" y="1039" font-size="16.8" font-weight="bold" fill="#111" textLength="40" lengthAdjust="spacingAndGlyphs">S1 80</text>
<text x="141.2" y="1039" font-size="16.5" fill="#1a1a1a" text-anchor="middle">800</text>
<text x="217.8" y="1039" font-size="16.5" fill="#1a1a1a" text-anchor="middle">777-792</text>
<text x="314.9" y="1039" font-size="16.5" fill="#1a1a1a" text-anchor="middle">770-785</text>
<text x="41.0" y="1067.8" font-size="16.8" font-weight="bold" fill="#111" textLength="40" lengthAdjust="spacingAndGlyphs">S1 90</text>
<text x="141.2" y="1067.8" font-size="16.5" fill="#1a1a1a" text-anchor="middle">900</text>
<text x="217.8" y="1067.8" font-size="16.5" fill="#1a1a1a" text-anchor="middle">877-892</text>
<text x="314.9" y="1067.8" font-size="16.5" fill="#1a1a1a" text-anchor="middle">870-885</text>
<text x="36.5" y="1096.5" font-size="16.8" font-weight="bold" fill="#111" textLength="49" lengthAdjust="spacingAndGlyphs">S1 100</text>
<text x="141.2" y="1096.5" font-size="16.5" fill="#1a1a1a" text-anchor="middle">1000</text>
<text x="217.8" y="1096.5" font-size="16.5" fill="#1a1a1a" text-anchor="middle">977-992</text>
<text x="314.9" y="1096.5" font-size="16.5" fill="#1a1a1a" text-anchor="middle">970-985</text>
</g>
<!--PLANS-->
<g id="planL">
<rect x="675.5" y="773.2" width="221" height="190" fill="#f4f6f5"/>
<line x1="702.5" y1="773.2" x2="702.5" y2="964" stroke="#b4b6b8" stroke-width="1.2"/>
<line x1="728.9" y1="773.2" x2="728.9" y2="964" stroke="#b4b6b8" stroke-width="1.2"/>
<line x1="755.3" y1="773.2" x2="755.3" y2="964" stroke="#b4b6b8" stroke-width="1.2"/>
<line x1="781.5" y1="773.2" x2="781.5" y2="964" stroke="#b4b6b8" stroke-width="1.2"/>
<line x1="807.7" y1="773.2" x2="807.7" y2="964" stroke="#b4b6b8" stroke-width="1.2"/>
<line x1="833.6" y1="773.2" x2="833.6" y2="964" stroke="#b4b6b8" stroke-width="1.2"/>
<line x1="859.8" y1="773.2" x2="859.8" y2="964" stroke="#b4b6b8" stroke-width="1.2"/>
<line x1="675.5" y1="799.6" x2="896.5" y2="799.6" stroke="#b4b6b8" stroke-width="1.2"/>
<line x1="675.5" y1="826.0" x2="896.5" y2="826.0" stroke="#b4b6b8" stroke-width="1.2"/>
<line x1="675.5" y1="852.4" x2="896.5" y2="852.4" stroke="#b4b6b8" stroke-width="1.2"/>
<line x1="675.5" y1="878.6" x2="896.5" y2="878.6" stroke="#b4b6b8" stroke-width="1.2"/>
<line x1="675.5" y1="904.6" x2="896.5" y2="904.6" stroke="#b4b6b8" stroke-width="1.2"/>
<line x1="675.5" y1="931.2" x2="896.5" y2="931.2" stroke="#b4b6b8" stroke-width="1.2"/>
<line x1="675.5" y1="958.5" x2="896.5" y2="958.5" stroke="#b4b6b8" stroke-width="1.2"/>
<path d="M664.5,762.7 L902.8,762.7 L902.8,773.2 L675.5,773.2 L675.5,967.3 L664.5,967.3 Z" fill="#d1d3d4" stroke="#444" stroke-width="1"/>
<line x1="886.4" y1="779" x2="886.4" y2="943" stroke="#1e1e1e" stroke-width="2.3"/>
<rect x="884.3" y="773.6" width="4.2" height="6" fill="#fff" stroke="#333" stroke-width="0.8"/>
<rect x="676" y="912.4" width="212.3" height="4.8" fill="#fff" stroke="#2a2a2a" stroke-width="1.3"/>
<rect x="676.5" y="912.6" width="4.5" height="4.4" fill="#fff" stroke="#222" stroke-width="1.1"/>
<rect x="883.6" y="912.4" width="4.7" height="4.8" fill="#fff" stroke="#222" stroke-width="1.2"/>
<rect x="715.2" y="911.5" width="5.6" height="30.9" rx="1" fill="#fff" stroke="#2a2a2a" stroke-width="1.2"/>
<circle cx="718" cy="915" r="1" fill="#333"/>
<line x1="682" y1="940.3" x2="715.2" y2="940.3" stroke="#2a2a2a" stroke-width="2.3"/>
<rect x="676.7" y="938.6" width="5.8" height="3.2" fill="#fff" stroke="#444" stroke-width="0.8"/>
<rect x="724" y="938.3" width="4.8" height="4.7" fill="#111"/>
<line x1="720.8" y1="940.6" x2="724" y2="940.6" stroke="#222" stroke-width="1.4"/>
<line x1="735" y1="941.3" x2="888.3" y2="941.3" stroke="#1e1e1e" stroke-width="2.4"/>
<rect x="880.5" y="939.3" width="7.8" height="4.6" fill="#111"/>
<line x1="732.5" y1="941" x2="732.5" y2="1092.4" stroke="#161616" stroke-width="3.3"/>
<rect x="728.3" y="937" width="7.5" height="7.2" rx="2.2" fill="#fff" stroke="#222" stroke-width="1.4"/>
<path d="M724.7,1062.7 L724.7,1080.5 L739.8,1080.5" fill="none" stroke="#333" stroke-width="1.1"/>
<rect x="726" y="1078.3" width="13.5" height="3.4" fill="none" stroke="#333" stroke-width="0.9"/>
<line x1="676.3" y1="742.4" x2="887.5" y2="742.4" stroke="#222" stroke-width="1.3" marker-start="url(#arr)" marker-end="url(#arr)"/>
<line x1="675.5" y1="967.3" x2="675.5" y2="1001" stroke="#777" stroke-width="1"/>
<line x1="885.5" y1="944" x2="885.5" y2="1001" stroke="#888" stroke-width="1"/>
<line x1="675.5" y1="996.4" x2="732" y2="996.4" stroke="#222" stroke-width="1.3" marker-start="url(#arr)" marker-end="url(#arr)"/>
<line x1="733" y1="996.6" x2="885.5" y2="996.6" stroke="#222" stroke-width="1.3" marker-start="url(#arr)" marker-end="url(#arr)"/>
<path d="M665.2,926.1 A18,18 0 0 1 676.9,922.5 M686.8,926.1 A18,18 0 0 1 693.5,936.1 M693.5,944.9 A18,18 0 0 1 686.8,954.9 M676.9,958.5 A18,18 0 0 1 665.2,954.9" fill="none" stroke="#1a1a1a" stroke-width="1.5"/>
<polyline points="552.8,974.7 615.8,941.1 658.7,941.1" fill="none" stroke="#222" stroke-width="1.2"/>
<path d="M659,934 Q655,941 659,948" fill="none" stroke="#222" stroke-width="1.4"/>
<line x1="643.6" y1="773.5" x2="643.6" y2="940.5" stroke="#333" stroke-width="1.3" marker-start="url(#arr)" marker-end="url(#arr)"/>
<line x1="643.6" y1="941.7" x2="643.6" y2="1092" stroke="#333" stroke-width="1.3" marker-start="url(#arr)" marker-end="url(#arr)"/>
<rect x="715" y="830.5" width="128.8" height="17.2" fill="#fff"/>
<text x="720.2" y="844.3" font-size="17" fill="#111" textLength="117.5" lengthAdjust="spacingAndGlyphs">Wariant LEWY</text>
<text x="781.4" y="736.7" font-size="15.5" text-anchor="middle"><tspan fill="#1a1a1a">A1, </tspan><tspan fill="#7030a0">X1, </tspan><tspan fill="#f26b2a">Y1</tspan></text>
<text x="703.7" y="993.2" font-size="15.5" fill="#1ea7e8" text-anchor="middle">C</text>
<text x="808.9" y="993" font-size="15.5" fill="#8dc63f" text-anchor="middle">D</text>
<text transform="translate(638.5,858.2) rotate(-90)" font-size="15.5" text-anchor="middle"><tspan fill="#1a1a1a">A2, </tspan><tspan fill="#7030a0">X2, </tspan><tspan fill="#f26b2a">Y2</tspan></text>
<text transform="translate(638.5,1016.4) rotate(-90)" font-size="15.5" fill="#ee2a3a" text-anchor="middle">B</text>
</g>
<g id="planR">
<g transform="translate(1825,0) scale(-1,1)">
<rect x="675.5" y="773.2" width="221" height="190" fill="#f4f6f5"/>
<line x1="702.5" y1="773.2" x2="702.5" y2="964" stroke="#b4b6b8" stroke-width="1.2"/>
<line x1="728.9" y1="773.2" x2="728.9" y2="964" stroke="#b4b6b8" stroke-width="1.2"/>
<line x1="755.3" y1="773.2" x2="755.3" y2="964" stroke="#b4b6b8" stroke-width="1.2"/>
<line x1="781.5" y1="773.2" x2="781.5" y2="964" stroke="#b4b6b8" stroke-width="1.2"/>
<line x1="807.7" y1="773.2" x2="807.7" y2="964" stroke="#b4b6b8" stroke-width="1.2"/>
<line x1="833.6" y1="773.2" x2="833.6" y2="964" stroke="#b4b6b8" stroke-width="1.2"/>
<line x1="859.8" y1="773.2" x2="859.8" y2="964" stroke="#b4b6b8" stroke-width="1.2"/>
<line x1="675.5" y1="799.6" x2="896.5" y2="799.6" stroke="#b4b6b8" stroke-width="1.2"/>
<line x1="675.5" y1="826.0" x2="896.5" y2="826.0" stroke="#b4b6b8" stroke-width="1.2"/>
<line x1="675.5" y1="852.4" x2="896.5" y2="852.4" stroke="#b4b6b8" stroke-width="1.2"/>
<line x1="675.5" y1="878.6" x2="896.5" y2="878.6" stroke="#b4b6b8" stroke-width="1.2"/>
<line x1="675.5" y1="904.6" x2="896.5" y2="904.6" stroke="#b4b6b8" stroke-width="1.2"/>
<line x1="675.5" y1="931.2" x2="896.5" y2="931.2" stroke="#b4b6b8" stroke-width="1.2"/>
<line x1="675.5" y1="958.5" x2="896.5" y2="958.5" stroke="#b4b6b8" stroke-width="1.2"/>
<path d="M664.5,762.7 L902.8,762.7 L902.8,773.2 L675.5,773.2 L675.5,967.3 L664.5,967.3 Z" fill="#d1d3d4" stroke="#444" stroke-width="1"/>
<line x1="886.4" y1="779" x2="886.4" y2="943" stroke="#1e1e1e" stroke-width="2.3"/>
<rect x="884.3" y="773.6" width="4.2" height="6" fill="#fff" stroke="#333" stroke-width="0.8"/>
<rect x="676" y="912.4" width="212.3" height="4.8" fill="#fff" stroke="#2a2a2a" stroke-width="1.3"/>
<rect x="676.5" y="912.6" width="4.5" height="4.4" fill="#fff" stroke="#222" stroke-width="1.1"/>
<rect x="883.6" y="912.4" width="4.7" height="4.8" fill="#fff" stroke="#222" stroke-width="1.2"/>
<rect x="715.2" y="911.5" width="5.6" height="30.9" rx="1" fill="#fff" stroke="#2a2a2a" stroke-width="1.2"/>
<circle cx="718" cy="915" r="1" fill="#333"/>
<line x1="682" y1="940.3" x2="715.2" y2="940.3" stroke="#2a2a2a" stroke-width="2.3"/>
<rect x="676.7" y="938.6" width="5.8" height="3.2" fill="#fff" stroke="#444" stroke-width="0.8"/>
<rect x="724" y="938.3" width="4.8" height="4.7" fill="#111"/>
<line x1="720.8" y1="940.6" x2="724" y2="940.6" stroke="#222" stroke-width="1.4"/>
<line x1="735" y1="941.3" x2="888.3" y2="941.3" stroke="#1e1e1e" stroke-width="2.4"/>
<rect x="880.5" y="939.3" width="7.8" height="4.6" fill="#111"/>
<line x1="732.5" y1="941" x2="732.5" y2="1092.4" stroke="#161616" stroke-width="3.3"/>
<rect x="728.3" y="937" width="7.5" height="7.2" rx="2.2" fill="#fff" stroke="#222" stroke-width="1.4"/>
<path d="M724.7,1062.7 L724.7,1080.5 L739.8,1080.5" fill="none" stroke="#333" stroke-width="1.1"/>
<rect x="726" y="1078.3" width="13.5" height="3.4" fill="none" stroke="#333" stroke-width="0.9"/>
<line x1="676.3" y1="742.4" x2="887.5" y2="742.4" stroke="#222" stroke-width="1.3" marker-start="url(#arr)" marker-end="url(#arr)"/>
<line x1="675.5" y1="967.3" x2="675.5" y2="1001" stroke="#777" stroke-width="1"/>
<line x1="885.5" y1="944" x2="885.5" y2="1001" stroke="#888" stroke-width="1"/>
<line x1="675.5" y1="996.4" x2="732" y2="996.4" stroke="#222" stroke-width="1.3" marker-start="url(#arr)" marker-end="url(#arr)"/>
<line x1="733" y1="996.6" x2="885.5" y2="996.6" stroke="#222" stroke-width="1.3" marker-start="url(#arr)" marker-end="url(#arr)"/>
</g>
<line x1="1189.9" y1="773.5" x2="1189.9" y2="940.5" stroke="#333" stroke-width="1.3" marker-start="url(#arr)" marker-end="url(#arr)"/>
<line x1="1189.9" y1="941.7" x2="1189.9" y2="1093" stroke="#333" stroke-width="1.3" marker-start="url(#arr)" marker-end="url(#arr)"/>
<rect x="975" y="830.5" width="142" height="17.2" fill="#fff"/>
<text x="979.2" y="844.3" font-size="17" fill="#111" textLength="134" lengthAdjust="spacingAndGlyphs">Wariant PRAWY</text>
<text x="1043.5" y="737" font-size="15.5" text-anchor="middle"><tspan fill="#1a1a1a">A1, </tspan><tspan fill="#7030a0">X1, </tspan><tspan fill="#f26b2a">Y1</tspan></text>
<text x="1122.4" y="993.2" font-size="15.5" fill="#1ea7e8" text-anchor="middle">C</text>
<text x="1016.3" y="993" font-size="15.5" fill="#8dc63f" text-anchor="middle">D</text>
<text transform="translate(1184,858.2) rotate(-90)" font-size="15.5" text-anchor="middle"><tspan fill="#1a1a1a">A2, </tspan><tspan fill="#7030a0">X2, </tspan><tspan fill="#f26b2a">Y2</tspan></text>
<text transform="translate(1184,1017) rotate(-90)" font-size="15.5" fill="#ee2a3a" text-anchor="middle">B</text>
</g>
<!--MAG-->
<g id="mag">
<circle cx="506.5" cy="1070.4" r="106.6" fill="#fff"/>
<g clip-path="url(#cMag)">
<rect x="491.4" y="955" width="130" height="134.4" fill="#f9bfab"/>
<rect x="491.4" y="1089.4" width="130" height="19.4" fill="#c39bc8"/>
<rect x="491.4" y="1108.8" width="130" height="23.4" fill="#e4e5e4"/>
<line x1="491.4" y1="1132.2" x2="621" y2="1132.2" stroke="#111" stroke-width="2.4"/>
<line x1="491.4" y1="1089.4" x2="621" y2="1089.4" stroke="#333" stroke-width="1.1" stroke-dasharray="8,5"/>
<line x1="472.9" y1="1108.8" x2="621" y2="1108.8" stroke="#333" stroke-width="1.1" stroke-dasharray="8,5"/>
<line x1="446.6" y1="1132.2" x2="491" y2="1132.2" stroke="#333" stroke-width="1.1" stroke-dasharray="8,5"/>
<line x1="578" y1="1081.6" x2="621" y2="1081.6" stroke="#333" stroke-width="0.9"/>
<line x1="578" y1="1084.5" x2="621" y2="1084.5" stroke="#333" stroke-width="0.9"/>
<line x1="578" y1="1094.2" x2="621" y2="1094.2" stroke="#333" stroke-width="0.9"/>
<line x1="578" y1="1098" x2="621" y2="1098" stroke="#333" stroke-width="0.9"/>
</g>
<path d="M493.3,1068 L494.3,1065 L511.8,1065 L522.6,1071.5 L576.1,1071.5 L577.1,1073.8 L577.1,1103 L566.4,1108.8 L491.4,1108.8" fill="none" stroke="#222" stroke-width="2.1"/>
<line x1="491.4" y1="965.7" x2="491.4" y2="1132.2" stroke="#111" stroke-width="2.5"/>
<line x1="435.9" y1="992" x2="435.9" y2="1131.5" stroke="#333" stroke-width="1" marker-end="url(#arr)"/>
<line x1="460.2" y1="975.4" x2="460.2" y2="1108" stroke="#333" stroke-width="1" marker-end="url(#arr)"/>
<line x1="482.6" y1="967.7" x2="482.6" y2="1088.6" stroke="#333" stroke-width="1" marker-end="url(#arr)"/>
<circle cx="506.5" cy="1070.4" r="106.6" fill="none" stroke="#111" stroke-width="1.6"/>
<text transform="translate(434,1047) rotate(-90)" font-size="15" fill="#1a1a1a" text-anchor="middle" textLength="50" lengthAdjust="spacingAndGlyphs">A1 / A2</text>
<text transform="translate(457.3,1032.4) rotate(-90)" font-size="15" fill="#7030a0" text-anchor="middle" textLength="46" lengthAdjust="spacingAndGlyphs">X1 / X2</text>
<text transform="translate(480.3,1015.3) rotate(-90)" font-size="15" fill="#f26b2a" text-anchor="middle" textLength="47" lengthAdjust="spacingAndGlyphs">Y1 / Y2</text>
</g>
</svg>
</body></html>
